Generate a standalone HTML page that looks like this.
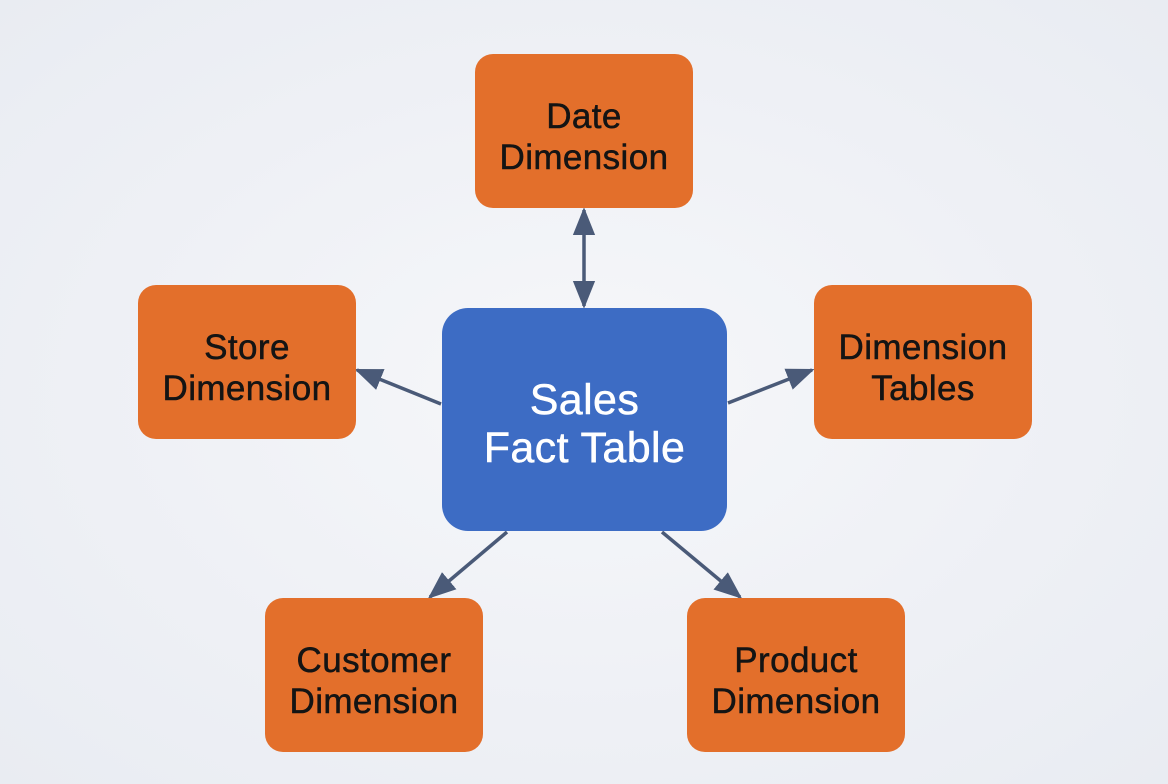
<!DOCTYPE html>
<html><head><meta charset="utf-8"><style>
html,body{margin:0;padding:0}
body{width:1168px;height:784px;overflow:hidden;background:radial-gradient(ellipse at 50% 50%,#f6f7fa 0%,#eef0f5 60%,#e9ecf2 100%);position:relative;font-family:"Liberation Sans",sans-serif}
.b{position:absolute;display:flex;align-items:center;justify-content:center;text-align:center;color:#141414;font-size:35px;line-height:41px;letter-spacing:0.4px;box-sizing:border-box;-webkit-text-stroke:0.5px currentColor;padding-top:12px}
.o{background:#e36f2b;border-radius:18px;width:218px;height:154px}
.c{background:#3d6cc4;border-radius:26px;color:#fff;font-size:43px;line-height:48px;padding-top:8px}
svg{position:absolute;left:0;top:0}
</style></head><body>
<svg width="1168" height="784">
<defs>
<marker id="m" viewBox="0 0 10 10" refX="9" refY="5" markerWidth="28" markerHeight="28" orient="auto-start-reverse" markerUnits="userSpaceOnUse"><path d="M0,1 L10,5 L0,9z" fill="#4a5a78"/></marker></defs>
<g stroke="#4a5a78" stroke-width="3.5" fill="none">
<line x1="584" y1="210" x2="584" y2="306" marker-start="url(#m)" marker-end="url(#m)"/>
<line x1="441" y1="404" x2="357" y2="370" marker-end="url(#m)"/>
<line x1="728" y1="403" x2="812" y2="370" marker-end="url(#m)"/>
<line x1="507" y1="532" x2="430" y2="597" marker-end="url(#m)"/>
<line x1="662" y1="532" x2="740" y2="597" marker-end="url(#m)"/>
</g></svg>
<div class="b o" style="left:475px;top:54px">Date<br>Dimension</div>
<div class="b o" style="left:138px;top:285px">Store<br>Dimension</div>
<div class="b o" style="left:814px;top:285px">Dimension<br>Tables</div>
<div class="b o" style="left:265px;top:598px">Customer<br>Dimension</div>
<div class="b o" style="left:687px;top:598px">Product<br>Dimension</div>
<div class="b c" style="left:442px;top:308px;width:285px;height:223px">Sales<br>Fact Table</div>
</body></html>
